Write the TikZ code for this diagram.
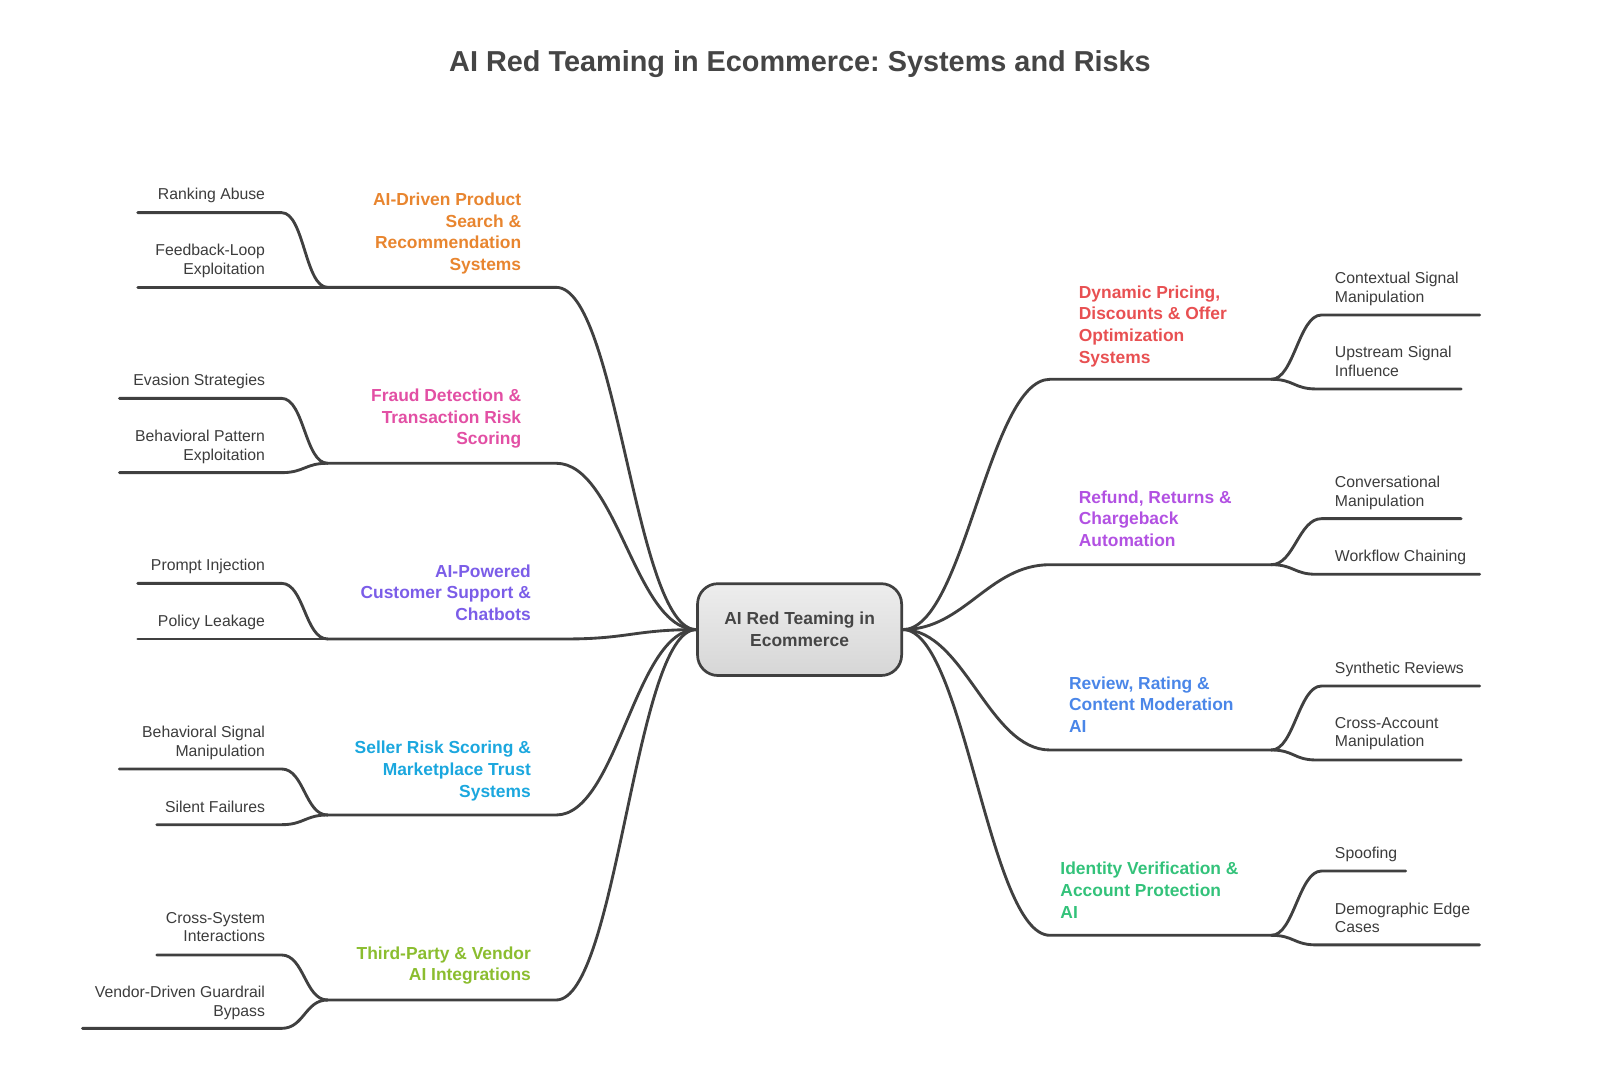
\documentclass[tikz,border=0pt]{standalone}
\usepackage{fontspec}
\setmainfont{Liberation Sans}
\frenchspacing
\definecolor{linec}{HTML}{404040}
\definecolor{leafc}{HTML}{3C3C3C}
\definecolor{titlec}{HTML}{454545}
\definecolor{cOrange}{HTML}{E8852F}
\definecolor{cPink}{HTML}{E24FA4}
\definecolor{cPurple}{HTML}{7B5DE8}
\definecolor{cCyan}{HTML}{1BA7DE}
\definecolor{cLime}{HTML}{8BBD2F}
\definecolor{cRed}{HTML}{E85052}
\definecolor{cViolet}{HTML}{B251E2}
\definecolor{cBlue}{HTML}{4A86E8}
\definecolor{cGreen}{HTML}{33C27A}
\tikzset{
  conn/.style={draw=linec, line width=2.1pt, line cap=round, line join=round},
  brl/.style={inner sep=0pt, anchor=north east, align=right, font=\fontsize{12.8}{16}\selectfont\bfseries},
  brr/.style={inner sep=0pt, anchor=north west, align=left, font=\fontsize{12.8}{16}\selectfont\bfseries},
  leafl/.style={inner sep=0pt, anchor=north east, align=right, text=leafc, font=\fontsize{11.6}{13.75}\selectfont},
  leafr/.style={inner sep=0pt, anchor=north west, align=left, text=leafc, font=\fontsize{11.6}{13.75}\selectfont},
  hub/.style={draw=linec, line width=2pt, rounded corners=15pt, top color=black!7, bottom color=black!16,
    minimum width=150pt, minimum height=67.5pt, align=center, text=titlec, font=\fontsize{12.8}{16}\selectfont\bfseries},
}
\begin{document}
\begin{tikzpicture}[x=0.75pt,y=-0.75pt]
\useasboundingbox (0,0) rectangle (1568,1069);
\node[font=\fontsize{21.2}{26}\selectfont\bfseries, text=titlec] (title) at (784,63) {AI Red Teaming in Ecommerce: Systems and Risks};
\node[hub] (c) at (783.6,617) {AI Red Teaming in\\Ecommerce};

% ---------- left side coordinates
\coordinate (L1e) at (545,281.6); \coordinate (L1j) at (321,281.6);
\coordinate (L1ak) at (276,208.4); \coordinate (L1a) at (135,208.4);
\coordinate (L1b) at (135,281.6);
\coordinate (L2e) at (545,454); \coordinate (L2j) at (321,454);
\coordinate (L2ak) at (276,390.4); \coordinate (L2a) at (117,390.4);
\coordinate (L2bk) at (276,463.2); \coordinate (L2b) at (117,463.2);
\coordinate (L3e) at (555,626.2); \coordinate (L3j) at (321,626.2);
\coordinate (L3ak) at (276,571.7); \coordinate (L3a) at (135,571.7);
\coordinate (L3b) at (135,626.2);
\coordinate (L4e) at (545,798.7); \coordinate (L4j) at (321,798.7);
\coordinate (L4ak) at (276,753.6); \coordinate (L4a) at (117,753.6);
\coordinate (L4bk) at (276,808.2); \coordinate (L4b) at (153.6,808.2);
\coordinate (L5e) at (545,980); \coordinate (L5j) at (321,980);
\coordinate (L5ak) at (276,935.9); \coordinate (L5a) at (153.6,935.9);
\coordinate (L5bk) at (276,1007.8); \coordinate (L5b) at (80.7,1007.8);
% ---------- right side coordinates
\coordinate (R1e) at (1029,371.7); \coordinate (R1j) at (1246,371.7);
\coordinate (R1ak) at (1295,308.7); \coordinate (R1a) at (1450,308.7);
\coordinate (R1bk) at (1290,381.2); \coordinate (R1b) at (1432,381.2);
\coordinate (R2e) at (1029,553.4); \coordinate (R2j) at (1246,553.4);
\coordinate (R2ak) at (1295,508.3); \coordinate (R2a) at (1432,508.3);
\coordinate (R2bk) at (1290,562.8); \coordinate (R2b) at (1450,562.8);
\coordinate (R3e) at (1029,735); \coordinate (R3j) at (1246,735);
\coordinate (R3ak) at (1295,672.3); \coordinate (R3a) at (1450,672.3);
\coordinate (R3bk) at (1290,744.8); \coordinate (R3b) at (1432,744.8);
\coordinate (R4e) at (1029,916.6); \coordinate (R4j) at (1246,916.6);
\coordinate (R4ak) at (1295,853.6); \coordinate (R4a) at (1377.6,853.6);
\coordinate (R4bk) at (1290,926); \coordinate (R4b) at (1450,926);

% ---------- main branches
\foreach \i in {1,2,3,4,5}{
  \draw[conn] (c.west) .. controls +(-60,0) and +(60,0) .. (L\i e) -- (L\i j);
}
\foreach \i in {1,2,3,4}{
  \draw[conn] (c.east) .. controls +(60,0) and +(-60,0) .. (R\i e) -- (R\i j);
}
% ---------- leaves
\foreach \i in {1,2,3,4,5}{
  \draw[conn] (L\i j) .. controls +(-22,0) and +(22,0) .. (L\i ak) -- (L\i a);
}
\draw[conn] (L1j) -- (L1b);
\draw[conn] (L3j) -- (L3b);
\foreach \i in {2,4,5}{
  \draw[conn] (L\i j) .. controls +(-22,0) and +(22,0) .. (L\i bk) -- (L\i b);
}
\foreach \i in {1,2,3,4}{
  \draw[conn] (R\i j) .. controls +(22,0) and +(-22,0) .. (R\i ak) -- (R\i a);
  \draw[conn] (R\i j) .. controls +(22,0) and +(-22,0) .. (R\i bk) -- (R\i b);
}

% ---------- branch labels
\node[brl, text=cOrange] (t1) at (511,188.7) {AI-Driven Product\\Search \&\\Recommendation\\Systems};
\node[brl, text=cPink] (t2) at (511,380.7) {Fraud Detection \&\\Transaction Risk\\Scoring};
\node[brl, text=cPurple] (t3) at (520.5,553) {AI-Powered\\Customer Support \&\\Chatbots};
\node[brl, text=cCyan] (t4) at (520.5,726.1) {Seller Risk Scoring \&\\Marketplace Trust\\Systems};
\node[brl, text=cLime] (t5) at (520.5,927.3) {Third-Party \& Vendor\\AI Integrations};
\node[brr, text=cRed] (t6) at (1057,279.5) {Dynamic Pricing,\\Discounts \& Offer\\Optimization\\Systems};
\node[brr, text=cViolet] (t7) at (1057,480.4) {Refund, Returns \&\\Chargeback\\Automation};
\node[brr, text=cBlue] (t8) at (1047.5,662.7) {Review, Rating \&\\Content Moderation\\AI};
\node[brr, text=cGreen] (t9) at (1039,844.7) {Identity Verification \&\\Account Protection\\AI};

% ---------- leaf labels
\node[leafl] (a1) at (260,184.4) {Ranking Abuse};
\node[leafl] (a2) at (260,239.3) {Feedback-Loop\\Exploitation};
\node[leafl] (a3) at (260,366.7) {Evasion Strategies};
\node[leafl] (a4) at (260,421.3) {Behavioral Pattern\\Exploitation};
\node[leafl] (a5) at (260,548) {Prompt Injection};
\node[leafl] (a6) at (260,602.6) {Policy Leakage};
\node[leafl] (a7) at (260,711.3) {Behavioral Signal\\Manipulation};
\node[leafl] (a8) at (260,784.3) {Silent Failures};
\node[leafl] (a9) at (260,893.6) {Cross-System\\Interactions};
\node[leafl] (a10) at (260,966.1) {Vendor-Driven Guardrail\\Bypass};
\node[leafr] (b1) at (1308,266.4) {Contextual Signal\\Manipulation};
\node[leafr] (b2) at (1308,338.9) {Upstream Signal\\Influence};
\node[leafr] (b3) at (1308,466.3) {Conversational\\Manipulation};
\node[leafr] (b4) at (1308,538.9) {Workflow Chaining};
\node[leafr] (b5) at (1308,648.3) {Synthetic Reviews};
\node[leafr] (b6) at (1308,702.5) {Cross-Account\\Manipulation};
\node[leafr] (b7) at (1308,829.9) {Spoofing};
\node[leafr] (b8) at (1308,884.3) {Demographic Edge\\Cases};
\end{tikzpicture}
\end{document}
